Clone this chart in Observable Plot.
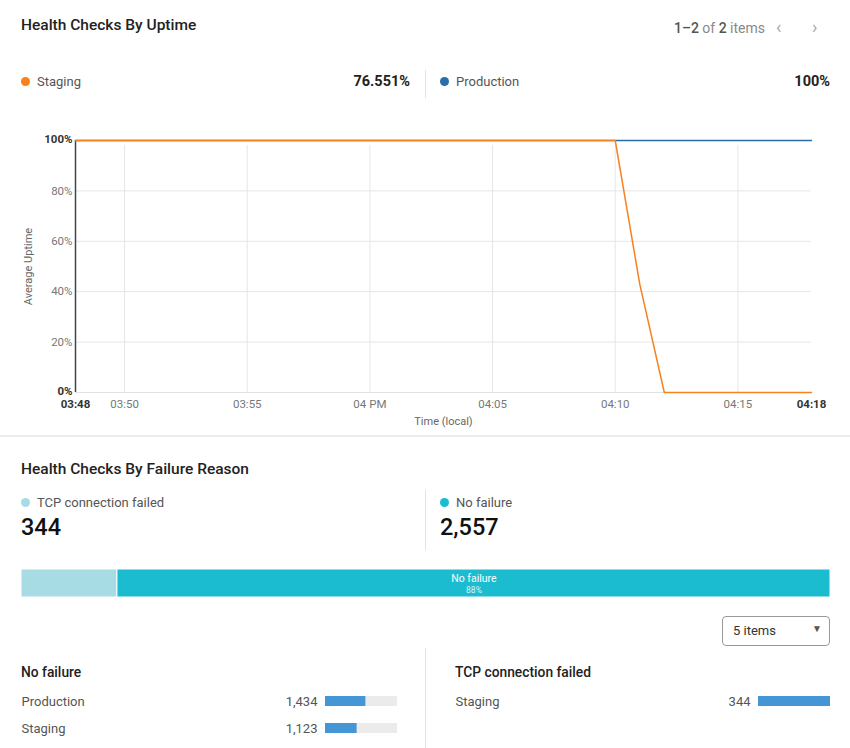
<!DOCTYPE html>
<html><head><meta charset="utf-8">
<script src="https://cdn.jsdelivr.net/npm/d3@7"></script>
<script src="https://cdn.jsdelivr.net/npm/@observablehq/plot@0.6"></script>
<style>
body{margin:0;background:#fff;font-family:Roboto,"Helvetica Neue",Arial,sans-serif;color:#222;}
#root{position:relative;width:850px;height:748px;overflow:hidden;background:#fff;}
.a{position:absolute;white-space:nowrap;line-height:1;}
.title{font-size:15.5px;font-weight:500;color:#222;}
.leg{font-size:13px;color:#555;}
.dot{position:absolute;width:9px;height:9px;border-radius:50%;}
.vsep{position:absolute;width:1px;background:#e4e4e4;}
.big{font-size:23.5px;font-weight:500;color:#111;}
.pct{font-size:14.5px;font-weight:700;color:#222;}
svg{display:block;max-width:none !important;overflow:visible;}
</style>
</head><body>
<div id="root">
  <div class="a title" style="left:21px;top:18px;">Health Checks By Uptime</div>
  <div class="a" style="right:85px;top:21px;font-size:14px;color:#888;"><span style="color:#555;font-weight:500">1–2</span> of <span style="color:#555;font-weight:500">2</span> items</div>
  <div class="a" style="left:776px;top:18px;font-size:18px;color:#aaa;">‹</div>
  <div class="a" style="left:812px;top:18px;font-size:18px;color:#aaa;">›</div>

  <div id="chart1" class="a" style="left:0;top:110px;width:850px;"></div>

  <div class="a" style="left:0;top:435px;width:850px;height:2px;background:#ececec;"></div>

  <div class="a title" style="left:21px;top:462px;">Health Checks By Failure Reason</div>
  <div id="chart2" class="a" style="left:0;top:569px;width:850px;"></div>

  <div class="a" style="left:722px;top:616px;width:106px;height:28px;border:1px solid #999;border-radius:4px;"></div>
  <div class="a" style="left:733px;top:624px;font-size:13px;color:#333;">5 items</div>
  <div class="a" style="left:812px;top:624px;font-size:10px;color:#555;">▼</div>

  <div class="vsep" style="left:425px;top:648px;height:100px;"></div>
</div>
<script>
// ---------- data ----------
const minutes = ["03:48","03:49","03:50","03:51","03:52","03:53","03:54","03:55","03:56","03:57","03:58","03:59","04:00","04:01","04:02","04:03","04:04","04:05","04:06","04:07","04:08","04:09","04:10","04:11","04:12","04:13","04:14","04:15","04:16","04:17","04:18"];
const stagingUptime = [100,100,100,100,100,100,100,100,100,100,100,100,100,100,100,100,100,100,100,100,100,100,100,43,0,0,0,0,0,0,0];
const productionUptime = [100,100,100,100,100,100,100,100,100,100,100,100,100,100,100,100,100,100,100,100,100,100,100,100,100,100,100,100,100,100,100];
const seriesNames = ["Staging","Production"];
const seriesSummary = ["76.551%","100%"];
const xTickTimes = ["03:50","03:55","04:00","04:05","04:10","04:15"];
const xTickLabels = ["03:50","03:55","04 PM","04:05","04:10","04:15"];
const xEdgeTimes = ["03:48","04:18"];
const yTicks = [20,40,60,80];
const yEdgeTicks = [0,100];

const reasons = ["TCP connection failed","No failure"];
const reasonCounts = [344,2557];
const reasonPercentLabel = ["12%","88%"];

const noFailureEnvs = ["Production","Staging"];
const noFailureCounts = [1434,1123];
const tcpEnvs = ["Staging"];
const tcpCounts = [344];

// ---------- colors ----------
const seriesColors = ["#f5821f","#2a6fa8"];
const reasonColors = ["#a7dce5","#1bbccf"];

const root = document.getElementById("root");
function el(html){const d=document.createElement("div");d.innerHTML=html;return d.firstElementChild;}
const FONT = "Roboto, Helvetica Neue, Arial, sans-serif";

// legend 1
const legX = [[21,37,440],[440,456,20]];
seriesNames.forEach((n,i)=>{
  root.appendChild(el(`<div class="dot" style="left:${legX[i][0]}px;top:77px;background:${seriesColors[i]}"></div>`));
  root.appendChild(el(`<div class="a leg" style="left:${legX[i][1]}px;top:75px;">${n}</div>`));
  root.appendChild(el(`<div class="a pct" style="right:${legX[i][2]}px;top:75px;">${seriesSummary[i]}</div>`));
});
root.appendChild(el(`<div class="vsep" style="left:425px;top:70px;height:28px;"></div>`));

// ---------- line chart ----------
const parse = s => new Date(`2020-01-01T${s}:00Z`);
const rows = [];
seriesNames.slice().reverse().forEach(name=>{
  const vals = name==="Staging"?stagingUptime:productionUptime;
  minutes.forEach((m,i)=>rows.push({t:parse(m),v:vals[i],s:name}));
});
const xt = xTickTimes.map(parse);
const xe = xEdgeTimes.map(parse);
const chart1 = Plot.plot({
  width:850, height:326,
  marginLeft:75, marginRight:39, marginTop:30, marginBottom:44,
  style:{fontFamily:FONT, fontSize:"11.5px", background:"transparent"},
  x:{type:"utc", domain:[parse(minutes[0]), parse(minutes[minutes.length-1])]},
  y:{domain:[0,100]},
  color:{domain:seriesNames, range:seriesColors},
  marks:[
    Plot.gridX(xt,{stroke:"#e6e6e6",strokeOpacity:1,y1:98,y2:0}),
    Plot.gridY(yTicks,{stroke:"#e6e6e6",strokeOpacity:1}),
    Plot.ruleY([0],{stroke:"#e2e2e2"}),
    Plot.ruleX([xe[0]],{stroke:"#444",strokeWidth:1.5}),
    Plot.line(rows,{x:"t",y:"v",z:"s",stroke:"s",strokeWidth:1.5}),
    Plot.axisX(xt,{tickSize:0,tickPadding:7,fill:"#777",label:null,tickFormat:(d,i)=>xTickLabels[i]}),
    Plot.axisX(xe,{tickSize:0,tickPadding:7,fill:"#333",fontWeight:"bold",label:null,tickFormat:d=>d3.utcFormat("%H:%M")(d)}),
    Plot.axisY(yTicks,{tickSize:0,tickPadding:3,fill:"#777",label:null,tickFormat:d=>d+"%"}),
    Plot.axisY(yEdgeTicks,{tickSize:0,tickPadding:3,fill:"#333",fontWeight:"bold",label:null,dy:-1,tickFormat:d=>d+"%"}),
    Plot.text(["Average Uptime"],{frameAnchor:"left",textAnchor:"middle",rotate:-90,dx:-47,fill:"#666",fontSize:11}),
    Plot.text(["Time (local)"],{frameAnchor:"bottom",lineAnchor:"middle",dy:29,fill:"#666",fontSize:11})
  ]
});
document.getElementById("chart1").appendChild(chart1);

// legend 2
const leg2X = [[21,37,21],[440,456,440]];
reasons.forEach((r,i)=>{
  root.appendChild(el(`<div class="dot" style="left:${leg2X[i][0]}px;top:498px;background:${reasonColors[i]}"></div>`));
  root.appendChild(el(`<div class="a leg" style="left:${leg2X[i][1]}px;top:496px;">${r}</div>`));
  root.appendChild(el(`<div class="a big" style="left:${leg2X[i][2]}px;top:516px;">${d3.format(",")(reasonCounts[i])}</div>`));
});
root.appendChild(el(`<div class="vsep" style="left:425px;top:490px;height:60px;"></div>`));

// ---------- stacked bar ----------
const total = d3.sum(reasonCounts);
const stackRows = reasons.map((r,i)=>({reason:r,count:reasonCounts[i],pct:reasonPercentLabel[i],share:reasonCounts[i]/total}));
const chart2 = Plot.plot({
  width:850,height:28,marginLeft:21,marginRight:20,marginTop:0,marginBottom:0,
  style:{fontFamily:FONT,background:"transparent"},
  x:{axis:null,domain:[0,total]},
  color:{domain:reasons,range:reasonColors},
  marks:[
    Plot.barX(stackRows,Plot.stackX({x:"count",fill:"reason",stroke:"white",strokeWidth:1})),
    Plot.text(stackRows,Plot.stackX({x:"count",text:d=>d.share>0.3?d.reason:"",fill:"white",fontSize:10.5,dy:-5})),
    Plot.text(stackRows,Plot.stackX({x:"count",text:d=>d.share>0.3?d.pct:"",fill:"#d8f3f7",fontSize:8.5,dy:7}))
  ]
});
document.getElementById("chart2").appendChild(chart2);

// ---------- small group bars ----------
function group(title, envs, counts, left, width, barLeft){
  root.appendChild(el(`<div class="a" style="left:${left}px;top:666px;font-size:13.8px;font-weight:500;color:#222;">${title}</div>`));
  const data = envs.map((e,i)=>({env:e,count:counts[i]}));
  const max = d3.sum(counts);
  const domainY = envs.length<2 ? envs.concat(["\u200b"]) : envs;
  const p = Plot.plot({
    width:width,height:54,marginLeft:barLeft,marginRight:0,marginTop:0,marginBottom:0,
    style:{fontFamily:FONT,fontSize:"13px",background:"transparent"},
    x:{axis:null,domain:[0,max]},
    y:{axis:null,domain:domainY,paddingInner:0.63,paddingOuter:0.315},
    marks:[
      Plot.barX(data,{x:()=>max,y:"env",fill:"#ebebeb"}),
      Plot.barX(data,{x:"count",y:"env",fill:"#4596d5"}),
      Plot.text(data,{x:0,y:"env",text:d=>d3.format(",")(d.count),textAnchor:"end",dx:-8,fill:"#555"}),
      Plot.text(data,{x:0,y:"env",text:"env",textAnchor:"start",dx:-barLeft,fill:"#555"})
    ]
  });
  const wrap = el(`<div class="a" style="left:${left}px;top:687px;width:${width}px;"></div>`);
  wrap.appendChild(p);
  root.appendChild(wrap);
}
group("No failure", noFailureEnvs, noFailureCounts, 21, 376, 304);
group("TCP connection failed", tcpEnvs, tcpCounts, 455, 375, 303);
</script>
</body></html>
